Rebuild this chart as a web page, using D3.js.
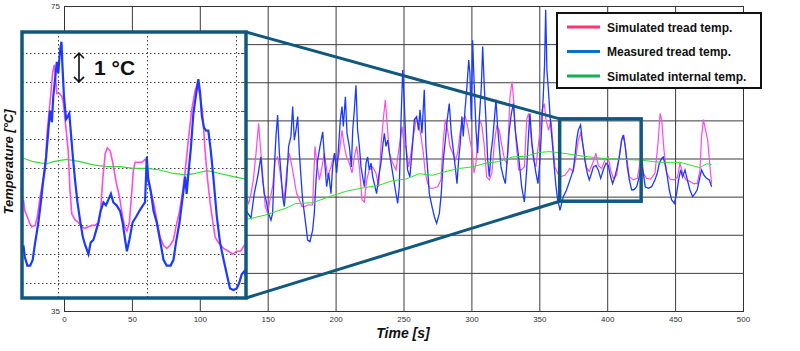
<!DOCTYPE html>
<html>
<head>
<meta charset="utf-8">
<script src="https://cdn.jsdelivr.net/npm/d3@7"></script>
<style>
  html, body { margin: 0; padding: 0; background: #fff; }
  svg { display: block; font-family: "Liberation Sans", Arial, sans-serif; }
</style>
</head>
<body>
<div id="chart"></div>
<script>
// ---- data (time [s], temperature [°C]) ----
const xTicks = [0, 50, 100, 150, 200, 250, 300, 350, 400, 450, 500];
const yTicks = [35, 40, 45, 50, 55, 60, 65, 70, 75];

const seriesNames = ["Simulated tread temp.", "Measured tread temp.", "Simulated internal temp."];

const measured = [
  [134.0,48.2],[137.7,47.2],[140.1,50.4],[142.6,52.6],[145.0,55.2],[146.3,52.2],[147.5,50.4],[148.7,49.6],[150.7,47.8],[152.4,46.9],
  [153.6,47.8],[154.9,53.9],[156.1,57.9],[157.3,60.7],[158.6,55.7],[159.8,53.1],[161.0,50.0],[162.2,48.7],[164.0,52.2],[165.4,56.6],
  [167.1,57.9],[168.4,61.8],[169.6,57.4],[170.8,58.7],[172.1,60.5],[173.3,55.7],[174.5,52.6],[175.7,49.6],[177.0,47.8],[178.2,46.1],
  [179.4,44.3],[181.1,44.1],[183.1,45.6],[184.3,47.8],[185.6,52.2],[186.8,54.8],[188.5,56.6],[190.5,58.5],[191.9,54.8],[193.4,51.3],
  [194.9,53.1],[196.6,50.4],[197.8,53.9],[199.3,55.7],[200.8,53.1],[202.2,56.6],[203.5,60.1],[204.7,61.8],[205.7,59.2],[207.2,63.1],
  [208.4,58.3],[210.1,56.6],[211.6,53.9],[212.6,58.7],[213.8,61.4],[215.0,64.6],[216.2,58.7],[217.5,56.6],[218.7,53.9],[219.9,52.6],
  [221.2,51.3],[222.4,54.4],[223.6,55.2],[224.8,53.5],[226.1,54.4],[227.3,52.6],[228.5,51.7],[230.2,50.4],[231.7,52.6],[233.4,54.4],
  [234.7,56.6],[235.9,58.3],[237.1,56.6],[238.3,57.4],[240.1,55.2],[242.0,53.1],[244.0,50.9],[245.7,49.1],[246.9,51.3],[248.2,60.1],
  [249.4,66.6],[250.6,62.2],[251.8,56.6],[253.0,53.5],[254.7,52.6],[256.2,55.7],[258.0,60.1],[259.7,60.5],[261.1,58.7],[262.1,61.4],
  [263.6,58.3],[265.3,64.0],[266.5,56.6],[267.8,53.5],[269.0,50.4],[271.0,48.7],[272.7,47.4],[274.4,46.5],[276.4,47.8],[277.8,50.4],
  [279.3,54.8],[280.8,57.4],[282.2,60.1],[283.7,62.2],[285.2,58.3],[286.7,56.1],[288.1,53.9],[289.4,51.7],[290.6,54.8],[291.8,57.0],
  [293.0,60.5],[294.0,57.9],[295.3,61.4],[296.7,64.4],[298.0,67.9],[298.9,66.2],[299.9,60.1],[300.9,70.5],[302.1,64.4],[303.4,58.7],
  [304.6,55.7],[305.8,60.1],[307.3,64.4],[308.3,69.7],[309.5,64.4],[310.7,60.1],[312.0,54.8],[313.2,52.6],[314.4,55.7],[315.6,57.4],
  [316.9,60.1],[318.1,62.7],[319.3,59.2],[320.5,56.6],[321.8,53.9],[323.5,52.6],[325.0,51.7],[326.7,55.7],[327.9,58.7],[329.4,60.9],
  [330.9,62.2],[332.3,58.7],[333.8,56.6],[335.3,54.4],[337.0,51.3],[339.0,49.3],[340.7,53.5],[342.1,58.3],[343.1,60.9],[344.6,57.0],
  [346.1,54.8],[347.5,53.1],[349.0,51.7],[350.5,54.8],[352.0,60.1],[353.0,63.5],[353.9,67.5],[354.7,74.5],[355.6,66.6],[356.9,63.5],
  [358.1,60.1],[359.8,56.6],[361.0,53.9],[362.3,51.3],[363.5,49.6],[364.7,48.7],[365.2,48.2],[367.7,50.0],[370.1,50.9],[372.6,52.2],
  [375.0,53.5],[376.2,55.2],[377.5,57.4],[378.7,58.7],[380.4,59.4],[381.9,57.0],[383.6,54.8],[385.3,53.1],[386.8,52.2],[388.5,53.1],
  [389.8,53.9],[391.7,54.1],[393.4,53.5],[395.2,52.4],[397.1,53.5],[399.1,54.4],[400.8,54.1],[402.5,52.6],[404.0,51.7],[405.7,52.6],
  [407.4,53.9],[408.9,55.2],[410.6,57.4],[411.8,58.1],[413.3,56.6],[414.8,53.9],[416.3,52.2],[418.0,50.9],[419.7,50.9],[421.7,51.3],
  [423.6,52.6],[425.3,54.4],[426.6,53.1],[428.0,51.3],[430.3,51.1],[432.7,51.3],[435.2,52.2],[436.9,53.1],[438.4,54.4],[440.1,55.0],
  [441.3,55.2],[442.8,54.1],[444.3,52.6],[445.7,50.9],[447.4,49.6],[449.4,49.1],[451.1,50.4],[452.6,52.2],[454.1,53.5],[455.5,52.6],
  [457.3,53.5],[459.0,52.2],[460.9,50.9],[462.9,50.0],[464.6,50.4],[466.3,50.9],[468.3,52.6],[469.5,53.5],[471.3,52.8],[473.2,52.4],
  [475.2,52.2],[476.9,51.3]
];

const simulatedTread = [
  [134.0,50.0],[136.0,49.1],[137.7,50.4],[139.4,52.2],[141.4,55.7],[143.3,59.6],[145.0,55.7],[146.8,51.7],[148.2,48.7],[150.0,47.8],
  [151.7,49.6],[153.6,51.3],[155.6,54.8],[157.3,55.2],[158.6,53.9],[160.5,51.3],[162.2,49.6],[164.0,53.5],[165.9,55.7],[167.9,53.9],
  [169.6,52.2],[171.3,50.4],[173.3,49.6],[175.2,48.7],[177.0,48.7],[179.4,48.9],[183.1,48.9],[184.8,56.6],[186.0,54.8],[188.0,52.2],
  [190.0,53.9],[191.7,55.7],[194.1,52.6],[196.6,53.9],[199.1,55.7],[200.8,53.9],[202.7,55.7],[204.7,58.7],[206.4,56.6],[208.1,55.2],
  [210.1,54.4],[212.1,53.1],[213.8,55.2],[215.5,56.6],[217.5,53.9],[219.4,49.6],[221.2,49.3],[222.9,52.2],[224.8,53.5],[227.3,53.9],
  [229.7,53.1],[231.7,51.3],[233.4,56.6],[235.1,60.1],[236.6,62.7],[238.1,59.2],[239.6,55.7],[242.0,54.4],[244.5,53.5],[246.9,56.6],
  [248.9,59.2],[250.6,56.6],[251.8,56.6],[253.8,53.9],[255.5,55.7],[257.2,57.9],[259.2,60.1],[261.1,59.6],[262.9,57.9],[264.6,55.7],
  [266.0,53.1],[267.8,51.7],[269.5,51.1],[271.9,51.1],[275.1,51.3],[277.6,52.2],[279.3,57.4],[280.8,60.1],[282.5,58.7],[284.2,56.6],
  [286.2,55.7],[288.1,54.8],[289.9,55.7],[291.6,58.3],[293.5,60.1],[295.5,60.5],[297.2,59.2],[298.9,57.4],[300.4,56.1],[301.9,53.1],
  [303.4,54.4],[304.8,57.9],[306.3,60.1],[307.8,59.2],[309.5,56.6],[311.2,52.6],[313.2,52.2],[315.1,53.1],[316.9,57.0],[318.6,59.2],
  [320.5,58.7],[322.5,56.6],[324.5,54.8],[326.4,54.4],[328.4,63.1],[329.9,65.1],[331.3,62.2],[332.8,57.4],[334.8,53.5],[336.7,53.5],
  [339.0,53.9],[340.7,60.1],[342.1,60.9],[343.9,57.9],[345.6,54.8],[347.5,53.9],[350.0,57.9],[352.0,61.4],[353.7,62.2],[354.9,60.1],
  [356.9,58.7],[358.6,60.1],[359.8,57.4],[361.5,53.9],[363.5,53.1],[365.2,52.6],[368.9,52.8],[372.6,53.7],[375.0,53.3],[377.0,55.2],
  [378.7,57.4],[380.4,58.3],[382.4,56.6],[384.4,53.9],[386.8,53.3],[389.8,54.6],[391.7,55.7],[393.4,54.1],[395.9,53.7],[398.3,54.8],
  [400.8,55.2],[402.5,53.5],[404.5,52.4],[406.9,52.8],[408.9,55.2],[410.6,57.4],[412.3,57.9],[414.3,55.2],[416.3,52.6],[419.2,52.2],
  [422.2,52.4],[424.1,54.4],[425.3,55.9],[426.6,53.1],[429.0,52.4],[432.0,52.3],[435.2,53.1],[437.6,57.4],[438.9,60.9],[440.1,60.1],
  [441.8,56.1],[443.8,53.1],[446.2,52.3],[449.2,52.2],[451.6,52.5],[453.6,54.4],[455.5,53.1],[458.0,52.2],[460.9,52.0],[463.4,51.7],
  [466.3,51.7],[468.3,53.5],[469.5,57.9],[470.8,60.1],[472.5,58.7],[474.0,57.4],[475.7,53.9],[476.9,51.7]
];

const simulatedInternal = [
  [134.0,47.0],[148.7,47.6],[163.5,48.5],[170.8,49.1],[183.1,49.2],[195.4,50.0],[207.7,50.7],[218.7,51.1],[232.2,51.5],[242.0,52.1],
  [251.8,52.3],[261.6,53.0],[271.4,52.8],[281.3,53.3],[291.1,53.7],[300.9,53.9],[310.7,54.4],[320.5,54.6],[330.4,55.2],[340.2,55.3],
  [350.0,55.8],[357.4,55.9],[367.2,55.7],[382.4,55.3],[397.1,55.0],[409.4,54.9],[424.1,54.8],[438.9,54.5],[453.6,54.5],[468.3,53.8],
  [473.2,54.3],[476.9,54.2]
];

// detailed record shown in the magnified inset
const insetMeasured = [
  [365.2,51.3],[365.6,50.9],[366.3,50.6],[367.1,50.6],[367.8,50.8],[368.5,51.4],[369.4,52.1],[370.1,52.8],[370.8,53.6],[371.6,54.4],
  [372.2,55.3],[372.7,56.0],[373.2,55.6],[373.6,56.5],[374.1,57.1],[374.6,57.7],[375.0,57.3],[375.5,58.1],[375.9,58.4],[376.2,57.5],
  [376.6,56.5],[377.2,55.7],[377.7,55.8],[378.1,55.9],[378.5,55.3],[379.1,54.4],[379.7,53.6],[380.4,52.8],[381.1,52.2],[381.9,51.6],
  [382.6,51.3],[383.5,51.0],[384.1,51.4],[384.9,51.5],[385.6,51.8],[386.3,52.1],[386.9,52.5],[387.7,52.8],[388.4,52.7],[389.1,52.9],
  [389.8,53.1],[390.5,52.8],[391.4,52.7],[392.4,52.5],[393.1,52.1],[393.8,51.5],[394.3,51.1],[395.0,51.5],[395.9,52.1],[396.9,52.3],
  [397.8,52.5],[398.8,52.7],[399.4,52.8],[399.9,54.4],[400.3,53.6],[401.0,53.2],[401.8,52.5],[402.7,52.1],[403.6,51.5],[404.6,50.8],
  [405.5,50.6],[406.6,50.6],[407.4,50.8],[408.1,51.4],[409.1,52.1],[410.0,53.0],[410.7,53.7],[411.1,53.1],[411.6,53.8],[412.3,54.7],
  [413.0,55.9],[413.8,56.6],[414.4,57.1],[414.9,56.6],[415.4,55.8],[416.0,55.4],[416.6,55.3],[417.2,55.3],[417.9,54.6],[418.6,53.7],
  [419.6,52.3],[420.5,51.4],[421.5,50.8],[422.4,50.3],[423.3,49.8],[424.3,49.75],[425.2,49.8],[425.9,50.0],[426.6,50.3],[427.3,50.4],
  [428.0,50.2]
];

const insetSimulatedTread = [
  [365.2,52.9],[365.6,52.5],[366.3,52.3],[366.9,52.1],[367.5,51.95],[368.5,52.0],[369.1,52.3],[369.9,53.0],[370.6,53.5],[371.3,53.9],
  [371.9,55.3],[372.7,56.3],[373.4,57.3],[373.9,57.6],[374.6,56.6],[375.3,56.6],[376.0,56.5],[376.4,56.3],[376.9,55.7],[377.4,55.1],
  [377.8,54.6],[378.3,53.2],[378.8,52.4],[379.7,52.2],[380.7,52.1],[381.6,51.95],[382.5,51.9],[383.5,51.95],[384.4,52.0],[385.3,52.0],
  [386.3,52.1],[386.9,52.5],[387.5,53.6],[388.2,54.5],[388.8,54.7],[389.6,54.6],[390.3,54.2],[391.3,53.5],[392.2,53.0],[393.1,52.3],
  [393.7,51.95],[394.3,51.8],[395.0,52.1],[395.7,53.2],[396.1,53.9],[396.6,54.2],[397.5,54.2],[398.5,54.2],[399.4,54.3],[399.9,54.2],
  [400.3,53.7],[401.0,53.2],[401.8,52.8],[402.7,52.2],[403.6,51.6],[404.6,51.3],[405.5,51.2],[406.4,51.3],[407.4,51.5],[408.1,51.95],
  [409.1,52.5],[410.0,53.2],[410.7,53.9],[411.6,55.0],[412.5,56.0],[413.5,56.7],[414.1,56.95],[414.9,56.5],[415.6,55.9],[416.3,54.6],
  [416.9,53.7],[417.7,52.8],[418.5,52.1],[419.1,51.6],[420.0,51.4],[421.5,51.2],[422.9,51.1],[424.1,51.0],[425.2,51.1],[426.3,51.1],
  [427.3,51.3],[428.0,51.4]
];

const insetSimulatedInternal = [
  [365.2,54.34],[368.0,54.22],[371.7,54.14],[373.6,54.22],[377.4,54.30],[381.1,54.22],[384.9,54.11],[388.6,54.05],[392.4,54.05],[396.1,53.99],
  [399.9,53.99],[403.6,53.93],[407.4,53.81],[411.1,53.76],[413.5,53.81],[416.8,53.91],[420.5,53.81],[424.3,53.70],[428.0,53.61]
];

const insetXTicks = [375, 400, 425];
const insetYTicks = [50, 51, 52, 53, 54, 55, 56, 57, 58];

// ---- layout ----
const width = 800, height = 351;
const plot = { left: 64, right: 743, top: 6, bottom: 311 };
const zoomWindow = { t0: 365, t1: 425, lo: 49.4, hi: 60.2 };
const inset = { left: 22, right: 246, top: 32, bottom: 298, t0: 364.8, t1: 427.8, lo: 49.47, hi: 58.74 };

const colors = { pink: "#ff4ae6", blue: "#1a3aff", green: "#2fe02f", frame: "#10587f" };
const legendColors = ["#ff3470", "#0a70c4", "#12b04e"];

const svg = d3.select("#chart")
    .append("svg")
    .attr("width", width)
    .attr("height", height);

// main scales
const x = d3.scaleLinear().domain([0, 500]).range([plot.left, plot.right]);
const y = d3.scaleLinear().domain([35, 75]).range([plot.bottom, plot.top]);

// grid + axes
const xAxis = d3.axisBottom(x).tickValues(xTicks).tickSizeInner(-(plot.bottom - plot.top)).tickSizeOuter(0).tickPadding(5);
const yAxis = d3.axisLeft(y).tickValues(yTicks).tickSizeInner(-(plot.right - plot.left)).tickSizeOuter(0).tickPadding(4);

const gx = svg.append("g")
    .attr("transform", `translate(0,${plot.bottom})`)
    .call(xAxis);
const gy = svg.append("g")
    .attr("transform", `translate(${plot.left},0)`)
    .call(yAxis);

[gx, gy].forEach(g => {
    g.selectAll(".tick line").attr("stroke", "#3c3c3c").attr("stroke-width", 1);
    g.select(".domain").attr("stroke", "#333");
    g.selectAll("text")
        .attr("fill", "#333")
        .style("font-size", "8px")
        .style("font-family", "'Liberation Sans', Arial, sans-serif");
});

// box
svg.append("rect")
    .attr("x", plot.left + 0.5).attr("y", plot.top + 0.5)
    .attr("width", plot.right - plot.left).attr("height", plot.bottom - plot.top)
    .attr("fill", "none").attr("stroke", "#333").attr("stroke-width", 1);

// series
const line = d3.line().x(d => x(d[0])).y(d => y(d[1]));

svg.append("path").datum(simulatedTread)
    .attr("d", line).attr("fill", "none")
    .attr("stroke", colors.pink).attr("stroke-width", 1.2);
svg.append("path").datum(measured)
    .attr("d", line).attr("fill", "none")
    .attr("stroke", colors.blue).attr("stroke-width", 1.3);
svg.append("path").datum(simulatedInternal)
    .attr("d", line).attr("fill", "none")
    .attr("stroke", colors.green).attr("stroke-width", 1);

// zoom window + connector lines
const zx0 = x(zoomWindow.t0), zx1 = x(zoomWindow.t1);
const zyTop = y(zoomWindow.hi), zyBot = y(zoomWindow.lo);

svg.append("rect")
    .attr("x", zx0).attr("y", zyTop)
    .attr("width", zx1 - zx0).attr("height", zyBot - zyTop)
    .attr("fill", "none").attr("stroke", colors.frame).attr("stroke-width", 3.5);

svg.append("line")
    .attr("x1", inset.right).attr("y1", inset.top).attr("x2", zx0).attr("y2", zyTop)
    .attr("stroke", colors.frame).attr("stroke-width", 3);
svg.append("line")
    .attr("x1", inset.right).attr("y1", inset.bottom).attr("x2", zx0).attr("y2", zyBot)
    .attr("stroke", colors.frame).attr("stroke-width", 3);

// ---- inset ----
const ix = d3.scaleLinear().domain([inset.t0, inset.t1]).range([inset.left, inset.right]);
const iy = d3.scaleLinear().domain([inset.lo, inset.hi]).range([inset.bottom, inset.top]);

const gi = svg.append("g");

gi.append("rect")
    .attr("x", inset.left).attr("y", inset.top)
    .attr("width", inset.right - inset.left).attr("height", inset.bottom - inset.top)
    .attr("fill", "#fff");

svg.append("clipPath").attr("id", "inset-clip")
    .append("rect")
    .attr("x", inset.left).attr("y", inset.top)
    .attr("width", inset.right - inset.left).attr("height", inset.bottom - inset.top);

// dotted grid
gi.selectAll(".ivgrid")
    .data(insetXTicks)
    .enter()
    .append("line")
    .attr("x1", d => Math.round(ix(d)) + 0.5).attr("x2", d => Math.round(ix(d)) + 0.5)
    .attr("y1", inset.top).attr("y2", inset.bottom)
    .attr("stroke", "#444").attr("stroke-width", 1).attr("stroke-dasharray", "1.5,2.5");

gi.selectAll(".ihgrid")
    .data(insetYTicks)
    .enter()
    .append("line")
    .attr("x1", inset.left).attr("x2", inset.right)
    .attr("y1", d => Math.round(iy(d)) + 0.5).attr("y2", d => Math.round(iy(d)) + 0.5)
    .attr("stroke", "#444").attr("stroke-width", 1).attr("stroke-dasharray", "1.5,2.5");

// small inward ticks on right side
gi.selectAll(".itick")
    .data(insetYTicks)
    .enter()
    .append("line")
    .attr("x1", inset.right - 5).attr("x2", inset.right)
    .attr("y1", d => Math.round(iy(d)) + 0.5).attr("y2", d => Math.round(iy(d)) + 0.5)
    .attr("stroke", "#555").attr("stroke-width", 1);

const iline = d3.line().x(d => ix(d[0])).y(d => iy(d[1]));
const gData = gi.append("g").attr("clip-path", "url(#inset-clip)");

gData.append("path").datum(insetSimulatedInternal)
    .attr("d", iline).attr("fill", "none")
    .attr("stroke", colors.green).attr("stroke-width", 1.2);
gData.append("path").datum(insetSimulatedTread)
    .attr("d", iline).attr("fill", "none")
    .attr("stroke", colors.pink).attr("stroke-width", 1.6);
gData.append("path").datum(insetMeasured)
    .attr("d", iline).attr("fill", "none")
    .attr("stroke", colors.blue).attr("stroke-width", 2.2);

// 1 °C scale marker (spans one grid step)
const ax = 79, ay0 = iy(58), ay1 = iy(57);
gi.append("path")
    .attr("d", `M${ax},${ay0} L${ax},${ay1} M${ax - 5},${ay0 + 5} L${ax},${ay0} L${ax + 5},${ay0 + 5} M${ax - 5},${ay1 - 5} L${ax},${ay1} L${ax + 5},${ay1 - 5}`)
    .attr("fill", "none").attr("stroke", "#111").attr("stroke-width", 1.6);

gi.append("text")
    .attr("x", 94).attr("y", 75)
    .style("font-size", "21px").style("font-weight", "bold")
    .attr("fill", "#111")
    .text("1 °C");

// inset frame
gi.append("rect")
    .attr("x", inset.left).attr("y", inset.top)
    .attr("width", inset.right - inset.left).attr("height", inset.bottom - inset.top)
    .attr("fill", "none").attr("stroke", colors.frame).attr("stroke-width", 3.5);

// ---- axis labels ----
svg.append("text")
    .attr("x", 403).attr("y", 338)
    .attr("text-anchor", "middle")
    .style("font-size", "14px").style("font-weight", "bold").style("font-style", "italic")
    .attr("fill", "#111")
    .text("Time [s]");

svg.append("text")
    .attr("transform", "rotate(-90)")
    .attr("x", -162).attr("y", 13)
    .attr("text-anchor", "middle")
    .style("font-size", "13px").style("font-weight", "bold").style("font-style", "italic")
    .attr("fill", "#111")
    .text("Temperature [°C]");

// ---- legend ----
const legend = svg.append("g").attr("transform", "translate(557,13)");

legend.append("rect")
    .attr("width", 204).attr("height", 75)
    .attr("fill", "#fff").attr("stroke", "#111").attr("stroke-width", 2);

const items = legend.selectAll(".item")
    .data(seriesNames)
    .enter()
    .append("g")
    .attr("transform", (d, i) => `translate(0,${14 + i * 24.5})`);

items.append("line")
    .attr("x1", 10).attr("x2", 43)
    .attr("stroke", (d, i) => legendColors[i]).attr("stroke-width", 3);

items.append("text")
    .attr("x", 50).attr("y", 4.5)
    .style("font-size", "12px").style("font-weight", "bold")
    .attr("fill", "#111")
    .text(d => d);
</script>
</body>
</html>
